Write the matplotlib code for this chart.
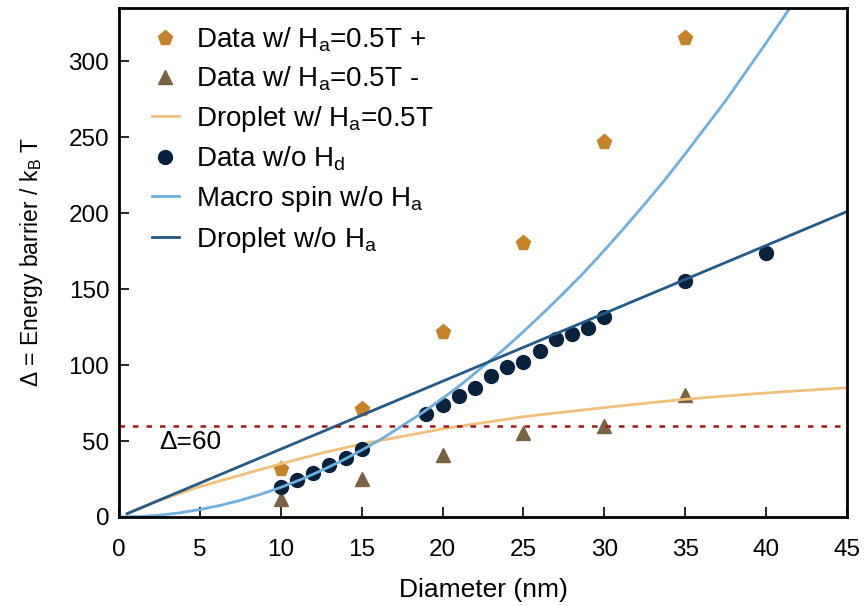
import matplotlib
matplotlib.use('Agg')
import matplotlib.pyplot as plt

plt.rcParams['font.family'] = ['Liberation Sans', 'DejaVu Sans']
plt.rcParams['mathtext.fontset'] = 'custom'
plt.rcParams['mathtext.rm'] = 'Liberation Sans'
plt.rcParams['mathtext.it'] = 'Liberation Sans'

# measured data
d_plus = [10, 15, 20, 25, 30, 35]
e_plus = [31.6, 71, 122, 180.5, 247, 315]
d_minus = [10, 15, 20, 25, 30, 35]
e_minus = [12, 25, 41, 55, 60, 80]
d_nohd = [10, 11, 12, 13, 14, 15, 19, 20, 21, 22, 23, 24, 25, 26, 27, 28, 29, 30, 35, 40]
e_nohd = [20, 24.5, 29, 34, 38.7, 44.5, 68, 74, 79.5, 84.7, 93, 98.7, 102.2, 109.5, 117, 120.6, 124.6, 131.6, 155, 174]

# model curves
d_drop_ha = [0.5, 2.5, 5, 7.5, 10, 12.5, 15, 17.5, 20, 22.5, 25, 27.5, 30, 32.5, 35, 37.5, 40, 42.5, 45]
e_drop_ha = [2, 11, 20, 27.5, 35, 42, 48, 53, 58, 62, 66, 69, 72, 74.8, 77.5, 79.6, 81.6, 83.4, 85]
d_macro = [0, 1.25, 2.5, 3.75, 5, 6.25, 7.5, 8.75, 10, 11.25, 12.5, 13.75, 15, 16.25, 17.5, 18.75, 20,
           21.25, 22.5, 23.75, 25, 26.25, 27.5, 28.75, 30, 31.25, 32.5, 33.75, 35, 36.25, 37.5, 38.75, 40, 41.6]
e_macro = [0, 0.3, 1.2, 2.7, 4.9, 7.6, 11, 14.9, 19.5, 24.7, 30.5, 36.9, 44, 51.5, 60, 68.6, 78,
           88, 99, 110, 122, 134.5, 147.5, 161, 175.5, 190.5, 206, 222, 239, 256.5, 274, 293, 312, 337]
d_drop = [0.5, 45]
e_drop = [2.2, 201]

fig = plt.figure(figsize=(8.65, 6.06), dpi=100)
ax = fig.add_axes([0.1376, 0.1469, 0.8416, 0.84])

ax.plot(d_plus, e_plus, linestyle='none', marker='p', ms=11, color='#c4822a',
        label=r'Data w/ H$_\mathrm{a}$=0.5T +')
ax.plot(d_minus, e_minus, linestyle='none', marker='^', ms=10, color='#7b6242',
        label=r'Data w/ H$_\mathrm{a}$=0.5T -')
ax.plot(d_drop_ha, e_drop_ha, color='#f4bf7a', lw=2, label=r'Droplet w/ H$_\mathrm{a}$=0.5T')
ax.plot(d_nohd, e_nohd, linestyle='none', marker='o', ms=10, color='#08223d',
        label=r'Data w/o H$_\mathrm{d}$')
ax.plot(d_macro, e_macro, color='#6dafe0', lw=2, label=r'Macro spin w/o H$_\mathrm{a}$')
ax.plot(d_drop, e_drop, color='#245a88', lw=2, label=r'Droplet w/o H$_\mathrm{a}$')
ax.axhline(60, color='#a31515', lw=1.8, linestyle=(0, (2.2, 3.2)))
ax.text(2.5, 49.5, 'Δ=60', fontsize=19, va='center', ha='left')

ax.set_xlim(0, 45)
ax.set_ylim(0, 335)
ax.set_xticks(range(0, 46, 5))
ax.set_yticks(range(0, 301, 50))
ax.tick_params(direction='in', length=7, width=1.2, labelsize=17.5)
ax.tick_params(axis='x', pad=16)
ax.tick_params(axis='y', pad=7)
for s in ax.spines.values():
    s.set_linewidth(2)
ax.set_xlabel('Diameter (nm)', fontsize=19, labelpad=12)
ax.set_ylabel(r'Δ = Energy barrier / k$_\mathrm{B}$ T', fontsize=16.5, labelpad=17)

ax.legend(loc='upper left', bbox_to_anchor=(0.018, 1.004), frameon=False, fontsize=20,
          handlelength=1.0, borderaxespad=0.3, labelspacing=0.39, handletextpad=0.6,
          numpoints=1)

fig.savefig('out.png', dpi=100)
